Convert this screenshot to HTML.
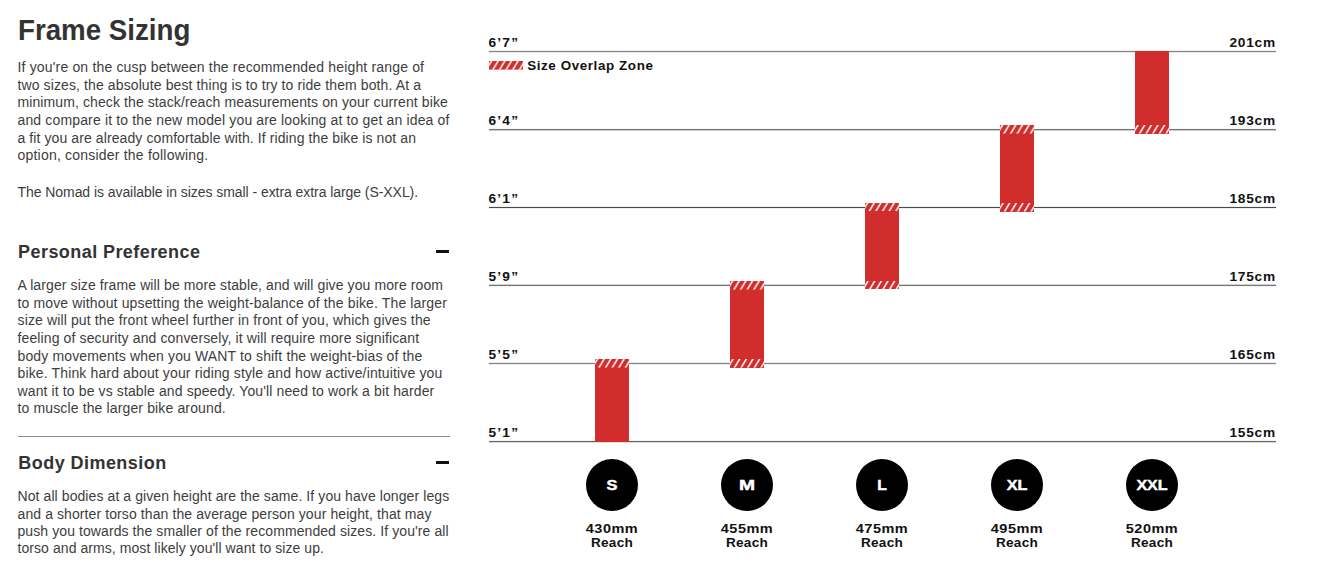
<!DOCTYPE html>
<html><head><meta charset="utf-8"><title>Frame Sizing</title>
<style>
html,body{margin:0;padding:0;background:#fff;}
body{width:1325px;height:572px;position:relative;overflow:hidden;font-family:"Liberation Sans",sans-serif;}
.t{position:absolute;white-space:nowrap;}
.r{position:absolute;}
</style></head><body>
<svg width="0" height="0" style="position:absolute"><defs><pattern id="hp" width="6.65" height="40" patternUnits="userSpaceOnUse" patternTransform="skewX(-31)"><rect x="1.6" width="1.75" height="40" fill="#fff"/></pattern><pattern id="hpb" width="6.65" height="40" patternUnits="userSpaceOnUse" patternTransform="skewX(-31)"><rect x="2.2" width="1.75" height="40" fill="#fff"/></pattern></defs></svg>
<div class="r" style="left:436px;top:250px;width:13px;height:2.6px;background:#111"></div>
<div class="r" style="left:436px;top:461px;width:13px;height:2.6px;background:#111"></div>
<div class="r" style="left:18px;top:436px;width:432px;height:1px;background:#8a8a8a"></div>
<div class="r" style="left:489px;top:51px;width:787px;height:1px;background:#838383;box-shadow:0 -1px 0 rgba(0,0,0,0.06),0 1px 0 rgba(0,0,0,0.08)"></div>
<div class="r" style="left:489px;top:129px;width:787px;height:1px;background:#767676;box-shadow:0 -1px 0 rgba(0,0,0,0.03),0 1px 0 rgba(0,0,0,0.2)"></div>
<div class="r" style="left:489px;top:207px;width:787px;height:1px;background:#4a4a4a;box-shadow:0 -1px 0 rgba(0,0,0,0.06),0 1px 0 rgba(0,0,0,0.06)"></div>
<div class="r" style="left:489px;top:285px;width:787px;height:1px;background:#767676;box-shadow:0 -1px 0 rgba(0,0,0,0.18),0 1px 0 rgba(0,0,0,0.04)"></div>
<div class="r" style="left:489px;top:363px;width:787px;height:1px;background:#838383;box-shadow:0 -1px 0 rgba(0,0,0,0.07),0 1px 0 rgba(0,0,0,0.07)"></div>
<div class="r" style="left:489px;top:441px;width:787px;height:1px;background:#666666;box-shadow:0 -1px 0 rgba(0,0,0,0.04),0 1px 0 rgba(0,0,0,0.14)"></div>
<svg class="r" style="left:489px;top:61.1px" width="34" height="8.6" viewBox="0 0 34 8.6"><rect width="34" height="8.6" fill="#d22d2d"/><rect width="34" height="8.6" fill="url(#hp)"/></svg>
<div class="r" style="left:595px;top:359.1px;width:34px;height:82.90px;background:#d22d2d"></div>
<svg class="r" style="left:595px;top:359.1px" width="34" height="8.6" viewBox="0 0 34 8.6"><rect width="34" height="8.6" fill="#d22d2d"/><rect width="34" height="8.6" fill="url(#hp)"/></svg>
<div class="r" style="left:730px;top:281px;width:34px;height:86.60px;background:#d22d2d"></div>
<svg class="r" style="left:730px;top:281px" width="34" height="8.6" viewBox="0 0 34 8.6"><rect width="34" height="8.6" fill="#d22d2d"/><rect width="34" height="8.6" fill="url(#hp)"/></svg>
<svg class="r" style="left:730px;top:359.0px" width="34" height="8.6" viewBox="0 0 34 8.6"><rect width="34" height="8.6" fill="#d22d2d"/><rect width="34" height="8.6" fill="url(#hpb)"/></svg>
<div class="r" style="left:865px;top:202.8px;width:34px;height:86.70px;background:#d22d2d"></div>
<svg class="r" style="left:865px;top:202.8px" width="34" height="8.6" viewBox="0 0 34 8.6"><rect width="34" height="8.6" fill="#d22d2d"/><rect width="34" height="8.6" fill="url(#hp)"/></svg>
<svg class="r" style="left:865px;top:280.9px" width="34" height="8.6" viewBox="0 0 34 8.6"><rect width="34" height="8.6" fill="#d22d2d"/><rect width="34" height="8.6" fill="url(#hpb)"/></svg>
<div class="r" style="left:1000px;top:125px;width:34px;height:86.60px;background:#d22d2d"></div>
<svg class="r" style="left:1000px;top:125px" width="34" height="8.6" viewBox="0 0 34 8.6"><rect width="34" height="8.6" fill="#d22d2d"/><rect width="34" height="8.6" fill="url(#hp)"/></svg>
<svg class="r" style="left:1000px;top:203.0px" width="34" height="8.6" viewBox="0 0 34 8.6"><rect width="34" height="8.6" fill="#d22d2d"/><rect width="34" height="8.6" fill="url(#hpb)"/></svg>
<div class="r" style="left:1135px;top:51px;width:34px;height:82.60px;background:#d22d2d"></div>
<svg class="r" style="left:1135px;top:125.0px" width="34" height="8.6" viewBox="0 0 34 8.6"><rect width="34" height="8.6" fill="#d22d2d"/><rect width="34" height="8.6" fill="url(#hpb)"/></svg>
<div class="r" style="left:586.20px;top:459px;width:52px;height:52px;border-radius:50%;background:#000"></div>
<div class="r" style="left:721.20px;top:459px;width:52px;height:52px;border-radius:50%;background:#000"></div>
<div class="r" style="left:856.20px;top:459px;width:52px;height:52px;border-radius:50%;background:#000"></div>
<div class="r" style="left:991.20px;top:459px;width:52px;height:52px;border-radius:50%;background:#000"></div>
<div class="r" style="left:1126.20px;top:459px;width:52px;height:52px;border-radius:50%;background:#000"></div>
<div class="t" style="top:16.45px;font-size:29px;line-height:29px;font-weight:700;color:#333;letter-spacing:0px;transform:scaleX(0.955);transform-origin:0 0;left:18.0px;">Frame Sizing</div>
<div class="t" style="top:60.15px;font-size:14px;line-height:14px;font-weight:400;color:#3d3d3d;letter-spacing:0.1667px;left:17.5px;">If you're on the cusp between the recommended height range of</div>
<div class="t" style="top:77.75px;font-size:14px;line-height:14px;font-weight:400;color:#3d3d3d;letter-spacing:0.1099px;left:17.5px;">two sizes, the absolute best thing is to try to ride them both. At a</div>
<div class="t" style="top:95.35px;font-size:14px;line-height:14px;font-weight:400;color:#3d3d3d;letter-spacing:0.099px;left:17.5px;">minimum, check the stack/reach measurements on your current bike</div>
<div class="t" style="top:112.95px;font-size:14px;line-height:14px;font-weight:400;color:#3d3d3d;letter-spacing:0.1501px;left:17.5px;">and compare it to the new model you are looking at to get an idea of</div>
<div class="t" style="top:130.55px;font-size:14px;line-height:14px;font-weight:400;color:#3d3d3d;letter-spacing:0.0935px;left:17.5px;">a fit you are already comfortable with. If riding the bike is not an</div>
<div class="t" style="top:148.15px;font-size:14px;line-height:14px;font-weight:400;color:#3d3d3d;letter-spacing:0.2067px;left:17.5px;">option, consider the following.</div>
<div class="t" style="top:185.15px;font-size:14px;line-height:14px;font-weight:400;color:#3d3d3d;letter-spacing:-0.0615px;left:17.5px;">The Nomad is available in sizes small - extra extra large (S-XXL).</div>
<div class="t" style="top:278.15px;font-size:14px;line-height:14px;font-weight:400;color:#3d3d3d;letter-spacing:0.1024px;left:17.5px;">A larger size frame will be more stable, and will give you more room</div>
<div class="t" style="top:295.75px;font-size:14px;line-height:14px;font-weight:400;color:#3d3d3d;letter-spacing:0.1397px;left:17.5px;">to move without upsetting the weight-balance of the bike. The larger</div>
<div class="t" style="top:313.35px;font-size:14px;line-height:14px;font-weight:400;color:#3d3d3d;letter-spacing:0.1337px;left:17.5px;">size will put the front wheel further in front of you, which gives the</div>
<div class="t" style="top:330.95px;font-size:14px;line-height:14px;font-weight:400;color:#3d3d3d;letter-spacing:0.1203px;left:17.5px;">feeling of security and conversely, it will require more significant</div>
<div class="t" style="top:348.55px;font-size:14px;line-height:14px;font-weight:400;color:#3d3d3d;letter-spacing:0.1342px;left:17.5px;">body movements when you WANT to shift the weight-bias of the</div>
<div class="t" style="top:366.15px;font-size:14px;line-height:14px;font-weight:400;color:#3d3d3d;letter-spacing:0.1388px;left:17.5px;">bike. Think hard about your riding style and how active/intuitive you</div>
<div class="t" style="top:383.75px;font-size:14px;line-height:14px;font-weight:400;color:#3d3d3d;letter-spacing:0.1203px;left:17.5px;">want it to be vs stable and speedy. You'll need to work a bit harder</div>
<div class="t" style="top:401.35px;font-size:14px;line-height:14px;font-weight:400;color:#3d3d3d;letter-spacing:0.1362px;left:17.5px;">to muscle the larger bike around.</div>
<div class="t" style="top:489.15px;font-size:14px;line-height:14px;font-weight:400;color:#3d3d3d;letter-spacing:0.0858px;left:17.5px;">Not all bodies at a given height are the same. If you have longer legs</div>
<div class="t" style="top:506.55px;font-size:14px;line-height:14px;font-weight:400;color:#3d3d3d;letter-spacing:0.0956px;left:17.5px;">and a shorter torso than the average person your height, that may</div>
<div class="t" style="top:523.95px;font-size:14px;line-height:14px;font-weight:400;color:#3d3d3d;letter-spacing:0.0875px;left:17.5px;">push you towards the smaller of the recommended sizes. If you're all</div>
<div class="t" style="top:541.35px;font-size:14px;line-height:14px;font-weight:400;color:#3d3d3d;letter-spacing:0.068px;left:17.5px;">torso and arms, most likely you'll want to size up.</div>
<div class="t" style="top:242.76px;font-size:18px;line-height:18px;font-weight:700;color:#333;letter-spacing:0.43px;left:18.1px;">Personal Preference</div>
<div class="t" style="top:453.76px;font-size:18px;line-height:18px;font-weight:700;color:#333;letter-spacing:0.45px;left:18.3px;">Body Dimension</div>
<div class="t" style="top:35.90px;font-size:13.7px;line-height:13.7px;font-weight:700;color:#111;letter-spacing:1.2px;left:488.5px;">6&#8217;7&#8221;</div>
<div class="t" style="top:35.90px;font-size:13.7px;line-height:13.7px;font-weight:700;color:#111;letter-spacing:0.8px;right:49.00px;text-align:right;">201cm</div>
<div class="t" style="top:113.90px;font-size:13.7px;line-height:13.7px;font-weight:700;color:#111;letter-spacing:1.2px;left:488.5px;">6&#8217;4&#8221;</div>
<div class="t" style="top:113.90px;font-size:13.7px;line-height:13.7px;font-weight:700;color:#111;letter-spacing:0.8px;right:49.00px;text-align:right;">193cm</div>
<div class="t" style="top:191.90px;font-size:13.7px;line-height:13.7px;font-weight:700;color:#111;letter-spacing:1.2px;left:488.5px;">6&#8217;1&#8221;</div>
<div class="t" style="top:191.90px;font-size:13.7px;line-height:13.7px;font-weight:700;color:#111;letter-spacing:0.8px;right:49.00px;text-align:right;">185cm</div>
<div class="t" style="top:269.90px;font-size:13.7px;line-height:13.7px;font-weight:700;color:#111;letter-spacing:1.2px;left:488.5px;">5&#8217;9&#8221;</div>
<div class="t" style="top:269.90px;font-size:13.7px;line-height:13.7px;font-weight:700;color:#111;letter-spacing:0.8px;right:49.00px;text-align:right;">175cm</div>
<div class="t" style="top:347.90px;font-size:13.7px;line-height:13.7px;font-weight:700;color:#111;letter-spacing:1.2px;left:488.5px;">5&#8217;5&#8221;</div>
<div class="t" style="top:347.90px;font-size:13.7px;line-height:13.7px;font-weight:700;color:#111;letter-spacing:0.8px;right:49.00px;text-align:right;">165cm</div>
<div class="t" style="top:425.90px;font-size:13.7px;line-height:13.7px;font-weight:700;color:#111;letter-spacing:1.2px;left:488.5px;">5&#8217;1&#8221;</div>
<div class="t" style="top:425.90px;font-size:13.7px;line-height:13.7px;font-weight:700;color:#111;letter-spacing:0.8px;right:49.00px;text-align:right;">155cm</div>
<div class="t" style="top:58.66px;font-size:13.4px;line-height:13.4px;font-weight:700;color:#111;letter-spacing:0.6px;left:527.2px;">Size Overlap Zone</div>
<div class="t" style="top:478.14px;font-size:14.6px;line-height:14.6px;font-weight:700;color:#fff;letter-spacing:0px;-webkit-text-stroke:0.45px #fff;transform:scaleX(1.12);transform-origin:50% 0;left:512.20px;width:200px;text-align:center;">S</div>
<div class="t" style="top:522.50px;font-size:12.4px;line-height:12.4px;font-weight:700;color:#111;letter-spacing:0.4px;transform:scaleX(1.17);transform-origin:50% 0;left:512.20px;width:200px;text-align:center;">430mm</div>
<div class="t" style="top:536.64px;font-size:12px;line-height:12px;font-weight:700;color:#111;letter-spacing:0.2px;transform:scaleX(1.13);transform-origin:50% 0;left:511.90px;width:200px;text-align:center;">Reach</div>
<div class="t" style="top:478.14px;font-size:14.6px;line-height:14.6px;font-weight:700;color:#fff;letter-spacing:0px;-webkit-text-stroke:0.45px #fff;transform:scaleX(1.32);transform-origin:50% 0;left:647.20px;width:200px;text-align:center;">M</div>
<div class="t" style="top:522.50px;font-size:12.4px;line-height:12.4px;font-weight:700;color:#111;letter-spacing:0.4px;transform:scaleX(1.17);transform-origin:50% 0;left:647.20px;width:200px;text-align:center;">455mm</div>
<div class="t" style="top:536.64px;font-size:12px;line-height:12px;font-weight:700;color:#111;letter-spacing:0.2px;transform:scaleX(1.13);transform-origin:50% 0;left:646.90px;width:200px;text-align:center;">Reach</div>
<div class="t" style="top:478.14px;font-size:14.6px;line-height:14.6px;font-weight:700;color:#fff;letter-spacing:0px;-webkit-text-stroke:0.45px #fff;transform:scaleX(1.07);transform-origin:50% 0;left:782.20px;width:200px;text-align:center;">L</div>
<div class="t" style="top:522.50px;font-size:12.4px;line-height:12.4px;font-weight:700;color:#111;letter-spacing:0.4px;transform:scaleX(1.17);transform-origin:50% 0;left:782.20px;width:200px;text-align:center;">475mm</div>
<div class="t" style="top:536.64px;font-size:12px;line-height:12px;font-weight:700;color:#111;letter-spacing:0.2px;transform:scaleX(1.13);transform-origin:50% 0;left:781.90px;width:200px;text-align:center;">Reach</div>
<div class="t" style="top:478.14px;font-size:14.6px;line-height:14.6px;font-weight:700;color:#fff;letter-spacing:0px;-webkit-text-stroke:0.45px #fff;transform:scaleX(1.11);transform-origin:50% 0;left:917.20px;width:200px;text-align:center;">XL</div>
<div class="t" style="top:522.50px;font-size:12.4px;line-height:12.4px;font-weight:700;color:#111;letter-spacing:0.4px;transform:scaleX(1.17);transform-origin:50% 0;left:917.20px;width:200px;text-align:center;">495mm</div>
<div class="t" style="top:536.64px;font-size:12px;line-height:12px;font-weight:700;color:#111;letter-spacing:0.2px;transform:scaleX(1.13);transform-origin:50% 0;left:916.90px;width:200px;text-align:center;">Reach</div>
<div class="t" style="top:478.14px;font-size:14.6px;line-height:14.6px;font-weight:700;color:#fff;letter-spacing:0px;-webkit-text-stroke:0.45px #fff;transform:scaleX(1.1);transform-origin:50% 0;left:1052.20px;width:200px;text-align:center;">XXL</div>
<div class="t" style="top:522.50px;font-size:12.4px;line-height:12.4px;font-weight:700;color:#111;letter-spacing:0.4px;transform:scaleX(1.17);transform-origin:50% 0;left:1052.20px;width:200px;text-align:center;">520mm</div>
<div class="t" style="top:536.64px;font-size:12px;line-height:12px;font-weight:700;color:#111;letter-spacing:0.2px;transform:scaleX(1.13);transform-origin:50% 0;left:1051.90px;width:200px;text-align:center;">Reach</div>
</body></html>
